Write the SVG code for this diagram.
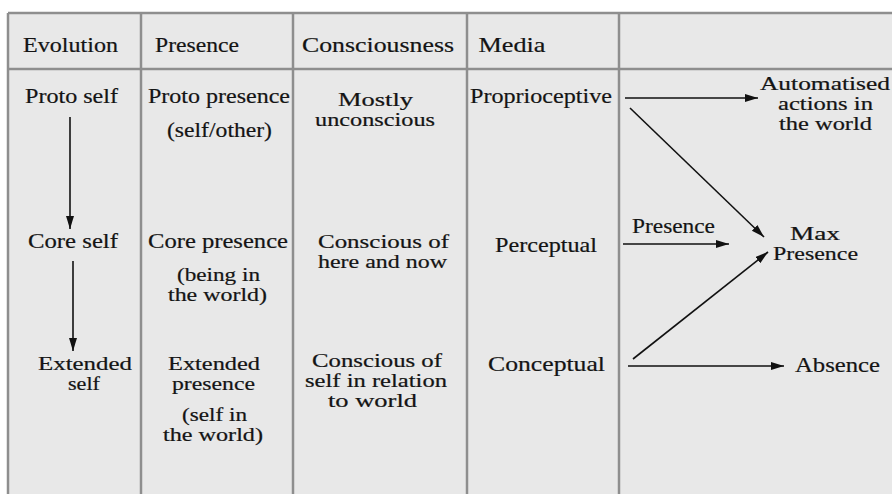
<svg xmlns="http://www.w3.org/2000/svg" width="892" height="494" viewBox="0 0 892 494">
<defs>
<style>
text{font-family:"Liberation Serif","DejaVu Serif",serif;font-size:21px;fill:#141414;stroke:#141414;stroke-width:0.2;text-anchor:middle}
.sm{font-size:18px}
.grid{stroke:#8e8e8e;stroke-width:2.5;fill:none}
.conn{stroke:#111;stroke-width:1.6;fill:none;marker-end:url(#ah)}
</style>
<marker id="ah" markerUnits="userSpaceOnUse" markerWidth="14" markerHeight="10" refX="13" refY="4" orient="auto">
<path d="M0,0 L13,4 L0,8 z" fill="#111"/>
</marker>
</defs>
<rect x="0" y="0" width="892" height="494" fill="#ffffff"/>
<rect x="8" y="13" width="884" height="481" fill="#e8e8e8"/>
<g id="grid">
<path class="grid" d="M8,13 H892 M8,69 H892 M8,13 V494 M141,13 V494 M293,13 V494 M467,13 V494 M619,13 V494"/>
</g>
<g id="headers">
<text x="70.5" y="52" textLength="95" lengthAdjust="spacingAndGlyphs">Evolution</text>
<text x="197" y="52" textLength="84" lengthAdjust="spacingAndGlyphs">Presence</text>
<text x="378" y="52" textLength="152" lengthAdjust="spacingAndGlyphs">Consciousness</text>
<text x="512" y="52" textLength="67" lengthAdjust="spacingAndGlyphs">Media</text>
</g>
<g id="proto-self"><text x="71.5" y="103" textLength="93" lengthAdjust="spacingAndGlyphs">Proto self</text></g>
<g id="proto-presence">
<text x="219" y="103" textLength="142" lengthAdjust="spacingAndGlyphs">Proto presence</text>
<text x="219.5" y="137" textLength="105" lengthAdjust="spacingAndGlyphs">(self/other)</text>
</g>
<g id="mostly-unconscious">
<text x="375.5" y="106" class="sm" textLength="75" lengthAdjust="spacingAndGlyphs">Mostly</text>
<text x="375" y="126" class="sm" textLength="120" lengthAdjust="spacingAndGlyphs">unconscious</text>
</g>
<g id="proprioceptive"><text x="541" y="103" textLength="142" lengthAdjust="spacingAndGlyphs">Proprioceptive</text></g>
<g id="automatised">
<text x="825" y="90" class="sm" textLength="130" lengthAdjust="spacingAndGlyphs">Automatised</text>
<text x="825.5" y="110" class="sm" textLength="95" lengthAdjust="spacingAndGlyphs">actions in</text>
<text x="825.5" y="130" class="sm" textLength="93" lengthAdjust="spacingAndGlyphs">the world</text>
</g>
<g id="core-self"><text x="73" y="248" textLength="90" lengthAdjust="spacingAndGlyphs">Core self</text></g>
<g id="core-presence">
<text x="218" y="248" textLength="140" lengthAdjust="spacingAndGlyphs">Core presence</text>
<text x="218.5" y="281" class="sm" textLength="83" lengthAdjust="spacingAndGlyphs">(being in</text>
<text x="217.5" y="301" class="sm" textLength="99" lengthAdjust="spacingAndGlyphs">the world)</text>
</g>
<g id="conscious-here">
<text x="383.5" y="248" class="sm" textLength="131" lengthAdjust="spacingAndGlyphs">Conscious of</text>
<text x="382.5" y="268" class="sm" textLength="129" lengthAdjust="spacingAndGlyphs">here and now</text>
</g>
<g id="perceptual"><text x="546" y="252" textLength="102" lengthAdjust="spacingAndGlyphs">Perceptual</text></g>
<g id="max-presence">
<text x="815" y="240" class="sm" textLength="50" lengthAdjust="spacingAndGlyphs">Max</text>
<text x="815.5" y="260" class="sm" textLength="85" lengthAdjust="spacingAndGlyphs">Presence</text>
</g>
<g id="extended-self">
<text x="85" y="370" class="sm" textLength="94" lengthAdjust="spacingAndGlyphs">Extended</text>
<text x="84" y="390" class="sm" textLength="32" lengthAdjust="spacingAndGlyphs">self</text>
</g>
<g id="extended-presence">
<text x="214" y="370" class="sm" textLength="92" lengthAdjust="spacingAndGlyphs">Extended</text>
<text x="213.5" y="390" class="sm" textLength="83" lengthAdjust="spacingAndGlyphs">presence</text>
<text x="214.5" y="421" class="sm" textLength="65" lengthAdjust="spacingAndGlyphs">(self in</text>
<text x="213" y="441" class="sm" textLength="100" lengthAdjust="spacingAndGlyphs">the world)</text>
</g>
<g id="conscious-self">
<text x="377" y="367" class="sm" textLength="130" lengthAdjust="spacingAndGlyphs">Conscious of</text>
<text x="376" y="387" class="sm" textLength="142" lengthAdjust="spacingAndGlyphs">self in relation</text>
<text x="372.5" y="407" class="sm" textLength="89" lengthAdjust="spacingAndGlyphs">to world</text>
</g>
<g id="conceptual"><text x="546.5" y="371" textLength="117" lengthAdjust="spacingAndGlyphs">Conceptual</text></g>
<g id="absence"><text x="837.5" y="372" textLength="85" lengthAdjust="spacingAndGlyphs">Absence</text></g>
<g id="connectors">
<line class="conn" x1="70" y1="117" x2="70" y2="229"/>
<line class="conn" x1="73" y1="261" x2="73" y2="351"/>
<line class="conn" x1="625" y1="98" x2="758" y2="98"/>
<line class="conn" x1="630" y1="108" x2="764" y2="237"/>
<line class="conn" x1="623" y1="244" x2="729" y2="244"/>
<text x="673.5" y="233" textLength="83" lengthAdjust="spacingAndGlyphs">Presence</text>
<line class="conn" x1="633" y1="359" x2="768" y2="252"/>
<line class="conn" x1="628" y1="366" x2="784" y2="366"/>
</g>
</svg>
